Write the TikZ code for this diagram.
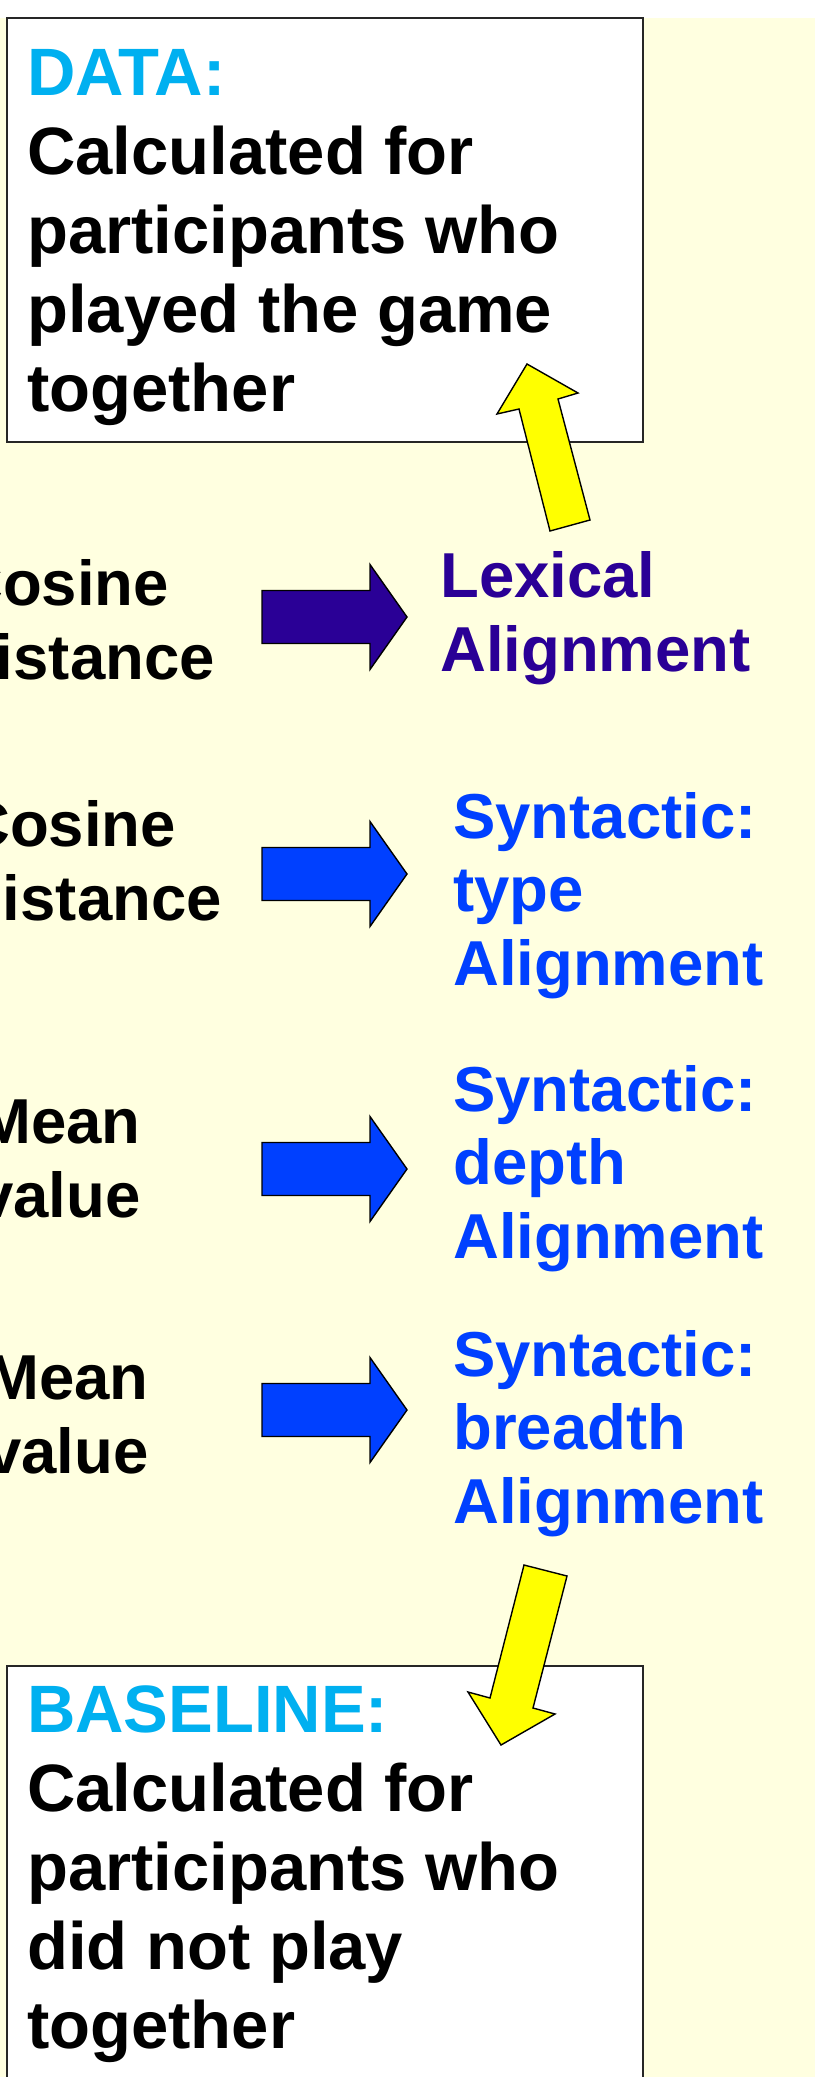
\documentclass[tikz,border=0pt]{standalone}
\usepackage{fontspec}
\setmainfont{Liberation Sans}
\definecolor{datacyan}{RGB}{0,176,240}
\definecolor{lexpurple}{RGB}{42,0,150}
\definecolor{synblue}{RGB}{0,64,255}
\definecolor{slidebg}{RGB}{255,255,224}
\definecolor{arrowyellow}{RGB}{255,255,0}

\begin{document}
\begin{tikzpicture}[x=1pt,y=-1pt,
    boxtext/.style={anchor=base west,inner sep=0pt,align=left,font=\fontsize{67}{79}\selectfont\bfseries},
    sidetext/.style={anchor=base west,inner sep=0pt,align=left,font=\fontsize{63.5}{73.5}\selectfont\bfseries},
    framebox/.style={draw=black!85,line width=1.2pt,fill=white},
    yellowarrow/.style={draw=black,line width=1.4pt,fill=arrowyellow,line join=miter},
    blockarrow/.pic={\filldraw[fill=#1,draw=black,line width=1.4pt,line join=miter]
        (0,-26.5) -- (108,-26.5) -- (108,-52.5) -- (145,0) -- (108,52.5) -- (108,26.5) -- (0,26.5) -- cycle;}]

    \useasboundingbox (0,0) rectangle (825,2077);
    \clip (0,0) rectangle (825,2077);
    \fill[white] (0,0) rectangle (825,2077);
    \fill[slidebg] (0,18) rectangle (815,2077);

    % frames (nodes sit on the baseline of their last line)
    \draw[framebox] (7,18) rectangle (643,442);
    \draw[framebox] (7,1666) rectangle (643,2110);

    \node[boxtext] (data) at (27,411) {\textcolor{datacyan}{DATA:}\\Calculated for\\participants who\\played the game\\together};
    \node[boxtext] (baseline) at (27,2048) {\textcolor{datacyan}{BASELINE:}\\Calculated for\\participants who\\did not play\\together};

    % measures on the left, alignments on the right
    \node[sidetext] (cosA) at (-43,679) {Cosine\\distance};
    \node[sidetext] (cosB) at (-36,920) {Cosine\\distance};
    \node[sidetext] (meanA) at (-22,1217) {Mean\\value};
    \node[sidetext] (meanB) at (-14,1473) {Mean\\value};

    \node[sidetext,text=lexpurple] (lex) at (440,671) {Lexical\\Alignment};
    \node[sidetext,text=synblue] (syntype) at (453,985) {Syntactic:\\type\\Alignment};
    \node[sidetext,text=synblue] (syndepth) at (453,1258) {Syntactic:\\depth\\Alignment};
    \node[sidetext,text=synblue] (synbreadth) at (453,1523) {Syntactic:\\breadth\\Alignment};

    \pic at (262,617) {blockarrow=lexpurple};
    \pic at (262,874) {blockarrow=synblue};
    \pic at (262,1169) {blockarrow=synblue};
    \pic at (262,1410) {blockarrow=synblue};

    % yellow arrows to the frames
    \filldraw[yellowarrow] (550,531) -- (519,409) -- (497,414) -- (527,364) -- (578,393) -- (558,399) -- (590,520) -- cycle;
    \filldraw[yellowarrow] (524,1565) -- (567,1576) -- (533,1708) -- (555,1714) -- (501,1745) -- (468,1692) -- (490,1698) -- cycle;
\end{tikzpicture}
\end{document}
